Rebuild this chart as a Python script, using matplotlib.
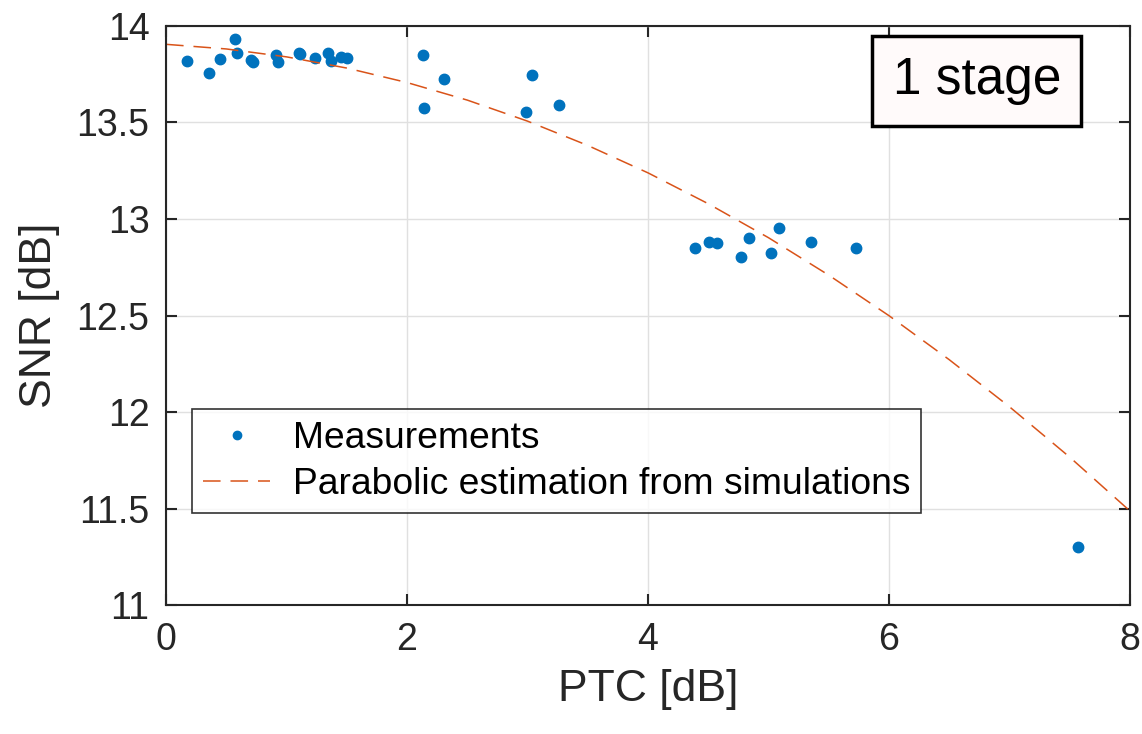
import numpy as np
import matplotlib.pyplot as plt

plt.rcParams["font.family"] = ["Liberation Sans", "DejaVu Sans"]

# measured points (PTC [dB], SNR [dB])
ptc_meas = [0.17, 0.36, 0.45, 0.57, 0.59, 0.705, 0.72, 0.91, 0.93, 1.10, 1.11,
            1.24, 1.34, 1.37, 1.45, 1.50, 2.135, 2.14, 2.31, 2.985, 3.04, 3.26,
            4.39, 4.51, 4.57, 4.77, 4.84, 5.02, 5.085, 5.35, 5.73, 7.57]
snr_meas = [13.82, 13.755, 13.83, 13.93, 13.86, 13.825, 13.815, 13.85, 13.815,
            13.86, 13.855, 13.835, 13.86, 13.82, 13.84, 13.835, 13.85, 13.575,
            13.725, 13.555, 13.745, 13.59, 12.85, 12.88, 12.877, 12.805, 12.90,
            12.825, 12.955, 12.88, 12.85, 11.30]

# parabolic estimation from simulations
ptc_sim = [0, 0.5, 1, 1.5, 2, 2.5, 3, 3.5, 4, 4.5, 5, 5.5, 6, 6.5, 7, 7.5, 8]
snr_sim = [13.905, 13.881, 13.840, 13.782, 13.707, 13.616, 13.507, 13.381,
           13.239, 13.079, 12.903, 12.709, 12.499, 12.271, 12.027, 11.766, 11.487]

fig = plt.figure(figsize=(11.42, 7.34), dpi=100)
ax = fig.add_axes([0.1454, 0.1757, 0.8441, 0.7889])

ax.plot(ptc_meas, snr_meas, ".", color="#0072BD", markersize=15,
        label="Measurements")
ax.plot(ptc_sim, snr_sim, "--", color="#D95319", linewidth=1.1,
        dashes=(11.5, 6.5), label="Parabolic estimation from simulations")

ax.set_xlim(0, 8)
ax.set_ylim(11, 14)
ax.set_xticks([0, 2, 4, 6, 8])
ax.set_yticks([11, 11.5, 12, 12.5, 13, 13.5, 14])
ax.set_yticklabels(["11", "11.5", "12", "12.5", "13", "13.5", "14"])
ax.grid(True, color="#e0e0e0", linewidth=1.0)
ax.set_axisbelow(True)
for s in ax.spines.values():
    s.set_color("#262626")
    s.set_linewidth(1.5)
ax.tick_params(direction="in", top=True, right=True, length=8, width=1.5,
               labelsize=27, colors="#262626", pad=12)

ax.set_xlabel("PTC [dB]", fontsize=32, color="#262626", labelpad=8)
ax.set_ylabel("SNR [dB]", fontsize=32, color="#262626", labelpad=12)

leg = ax.legend(loc="lower left", bbox_to_anchor=(0.027, 0.159), fontsize=26.8,
                frameon=True, fancybox=False, edgecolor="black",
                handlelength=1.8, handletextpad=0.6, borderaxespad=0,
                markerscale=0.8, borderpad=0.3, labelspacing=0.3)
leg.get_frame().set_linewidth(1.2)

ax.text(0.841, 0.905, "1 stage", transform=ax.transAxes, fontsize=37,
        ha="center", va="center",
        bbox=dict(boxstyle="square,pad=0.4", facecolor="#fffafa",
                  edgecolor="black", linewidth=2.5))

fig.savefig("out.png", dpi=100)
